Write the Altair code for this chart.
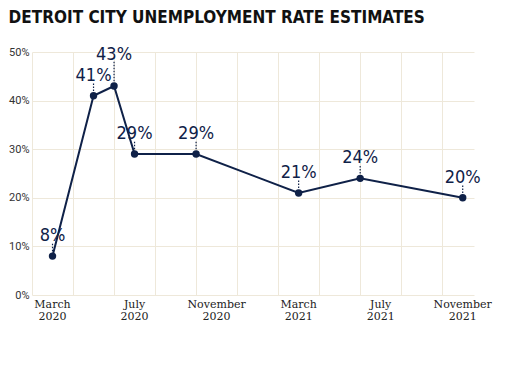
import altair as alt
import pandas as pd

months = [0, 2, 3, 4, 7, 12, 15, 20]  # months since March 2020
rates = [8, 41, 43, 29, 29, 21, 24, 20]
labels = ["8%", "41%", "43%", "29%", "29%", "21%", "24%", "20%"]
label_lift = [0, 0, 2.3, 0, 0, 0, 0, 0]  # extra raise of the label, in % units
tick_months = list(range(-1, 21))
y_ticks = [0, 10, 20, 30, 40, 50]
xlab_months = [0, 4, 8, 12, 16, 20]
xlab_text = ["March\n2020", "July\n2020", "November\n2020", "March\n2021", "July\n2021", "November\n2021"]

df = pd.DataFrame({"m": months, "rate": rates, "label": labels, "lift": label_lift})
df["ly"] = df["rate"] + df["lift"]
df["lo"] = df["rate"] + 1.0
df["hi"] = df["ly"] + 2.7
xl = pd.DataFrame({"m": xlab_months, "t": xlab_text})

navy = "#0f2148"
H = 243

x_enc = alt.X(
    "m:Q",
    scale=alt.Scale(domain=[-1, 20.55], nice=False, zero=False),
    axis=alt.Axis(
        values=tick_months,
        title=None,
        ticks=False,
        domain=False,
        grid=True,
        gridColor="#eee8da",
        labels=False,
    ),
)
y_enc = alt.Y(
    "rate:Q",
    scale=alt.Scale(domain=[0, 50], nice=False),
    axis=alt.Axis(
        values=y_ticks,
        title=None,
        ticks=False,
        domain=False,
        grid=True,
        gridColor="#eee8da",
        labelExpr="datum.value + '%'",
        labelFont="Roboto",
        labelFontSize=11,
        labelColor="#333333",
        labelPadding=3,
    ),
)

base = alt.Chart(df)
line = base.mark_line(color=navy, strokeWidth=2).encode(x=x_enc, y=y_enc)
pts = base.mark_circle(color=navy, size=55, opacity=1).encode(x="m:Q", y="rate:Q")
lead = base.mark_rule(color=navy, strokeDash=[1.5, 1.5], strokeWidth=1.2).encode(
    x="m:Q", y="lo:Q", y2="hi:Q"
)
txt = base.mark_text(
    font="DejaVu Sans Condensed", fontSize=18, color=navy, baseline="alphabetic", dy=-15
).encode(x="m:Q", y="ly:Q", text="label:N")
xtxt = alt.Chart(xl).mark_text(
    font="DejaVu Serif", fontSize=11, color="#222222", baseline="top", lineBreak="\n", lineHeight=12
).encode(x="m:Q", y=alt.value(H + 4), text="t:N")

chart = (
    alt.layer(line, lead, pts, txt, xtxt)
    .properties(
        width=442,
        height=H,
        padding={"left": 0, "top": 0, "right": 5, "bottom": 5},
        title=alt.TitleParams(
            "DETROIT CITY UNEMPLOYMENT RATE ESTIMATES",
            anchor="start",
            frame="bounds",
            font="DejaVu Sans Condensed",
            fontSize=17,
            fontWeight="bold",
            color="#111111",
            offset=19,
        ),
        background="white",
    )
    .configure_view(stroke=None)
)

chart.save("out.html", embed_options={"renderer": "svg", "actions": False})
